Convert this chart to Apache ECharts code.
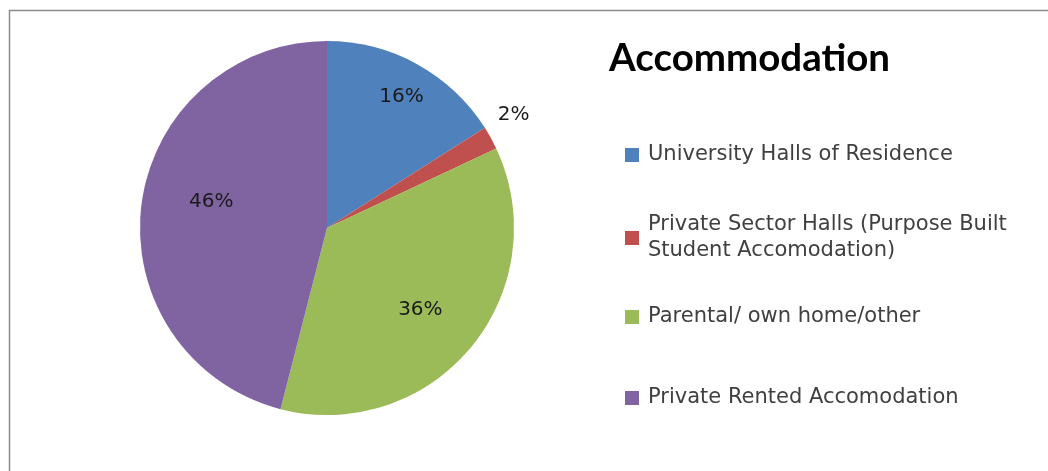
<!DOCTYPE html>
<html>
<head>
<meta charset="utf-8">
<script src="https://cdn.jsdelivr.net/npm/echarts@6/dist/echarts.min.js"></script>
<style>
  html, body { margin: 0; padding: 0; background: #fff; }
  #chart { width: 1048px; height: 471px; }
</style>
</head>
<body>
<div id="chart"></div>
<script>
var categories = [
  'University Halls of Residence',
  'Private Sector Halls (Purpose Built\nStudent Accomodation)',
  'Parental/ own home/other',
  'Private Rented Accomodation'
];
var shares = [16, 2, 36, 46];
var colors = ['#4F81BD', '#C0504D', '#9BBB59', '#8064A2'];

// nudges so the % labels sit where the original puts them
var labelShift = [[28, -47], [102, -67], [19, 20], [-20, -14]];
// vertical centre of each legend row (first line of text)
var legendRows = [155, 238, 317, 398];

var myChart = echarts.init(document.getElementById('chart'));

var legends = categories.map(function (name, i) {
  var twoLines = name.indexOf('\n') >= 0;
  return {
    orient: 'vertical',
    left: 625,
    top: legendRows[i] - (twoLines ? 39 : 13),
    padding: 0,
    itemWidth: 14,
    itemHeight: 14,
    selectedMode: false,
    icon: 'rect',
    data: [name],
    textStyle: {
      fontFamily: 'DejaVu Sans',
      fontSize: 21,
      color: '#404040',
      lineHeight: 26,
      padding: twoLines ? [26, 0, 0, 4] : [0, 0, 0, 4]
    }
  };
});

myChart.setOption({
  animation: false,
  color: colors,
  title: {
    text: 'Accommodation',
    left: 609,
    top: 39,
    padding: 0,
    textStyle: {
      fontFamily: 'Lato',
      fontWeight: 'bold',
      fontSize: 38.5,
      color: '#000'
    }
  },
  legend: legends,
  graphic: [{
    type: 'rect',
    silent: true,
    shape: { x: 9.5, y: 10.5, width: 1100, height: 500 },
    style: { fill: 'none', stroke: '#8c8c8c', lineWidth: 1.5 }
  }],
  series: [{
    type: 'pie',
    center: [327, 228],
    radius: 187,
    startAngle: 90,
    clockwise: true,
    avoidLabelOverlap: false,
    itemStyle: { borderWidth: 0 },
    emphasis: { disabled: true },
    label: {
      show: true,
      position: 'inside',
      formatter: '{c}%',
      fontFamily: 'DejaVu Sans',
      fontSize: 20,
      color: '#1a1a1a'
    },
    labelLine: { show: false },
    labelLayout: function (params) {
      var s = labelShift[params.dataIndex];
      return { dx: s[0], dy: s[1] };
    },
    data: categories.map(function (name, i) {
      return { name: name, value: shares[i] };
    })
  }]
});
</script>
</body>
</html>
